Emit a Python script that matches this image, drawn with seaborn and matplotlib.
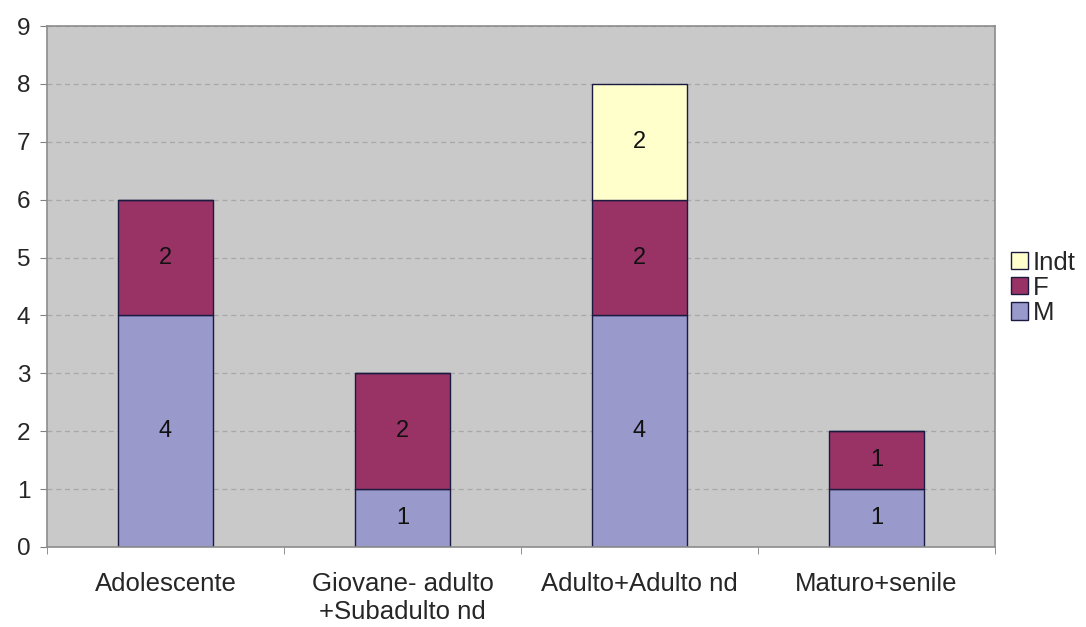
import numpy as np
import pandas as pd
import matplotlib
matplotlib.use("Agg")
import matplotlib.pyplot as plt
import seaborn as sns

# dati
categorie = ["Adolescente", "Giovane- adulto\n+Subadulto nd", "Adulto+Adulto nd", "Maturo+senile"]
m_vals = [4, 1, 4, 1]
f_vals = [2, 2, 2, 1]
indt_vals = [0, 0, 2, 0]

sns.set_style("white")
plt.rcParams['font.family'] = ['Liberation Sans', 'DejaVu Sans']

df = pd.DataFrame({"cat": categorie, "M": m_vals, "F": f_vals, "Indt": indt_vals})

fig = plt.figure(figsize=(10.86, 6.27), dpi=100)
ax = fig.add_axes([0.0433, 0.1276, 0.8729, 0.8309])
ax.set_facecolor("#C9C9C9")

colori = {"M": "#9999CC", "F": "#993366", "Indt": "#FFFFCC"}
bottom = np.zeros(len(categorie))
for serie in ["M", "F", "Indt"]:
    sns.barplot(data=df, x="cat", y=serie, color=colori[serie], bottom=bottom,
                width=0.40, edgecolor="#1a1a40", linewidth=1.0, ax=ax,
                saturation=1, label=serie)
    for i, v in enumerate(df[serie]):
        if v > 0:
            ax.text(i, bottom[i] + v / 2, str(v), ha="center", va="center",
                    fontsize=17, color="#111111")
    bottom = bottom + df[serie].values

ax.set_xlim(-0.5, 3.5)
ax.set_ylim(0, 9)
ax.set_yticks(range(10))
ax.grid(axis="y", linestyle=(0, (4, 3)), color="#a8a8a8", linewidth=0.9)
ax.set_axisbelow(True)
ax.set_xlabel("")
ax.set_ylabel("")

ax.tick_params(axis="x", which="major", length=0, labelsize=18.5, pad=18)
ax.set_xticks([-0.5, 0.5, 1.5, 2.5, 3.5], minor=True)
ax.tick_params(axis="x", which="minor", length=5, color="#808080", direction="out")
ax.tick_params(axis="y", length=5, color="#808080", direction="out", labelsize=17.5, pad=7)
ax.xaxis.set_ticks_position("bottom")
ax.yaxis.set_ticks_position("left")

for s in ["top", "right", "left", "bottom"]:
    ax.spines[s].set_color("#8c8c8c")
    ax.spines[s].set_linewidth(1.2)

handles, labels = ax.get_legend_handles_labels()
if ax.legend_:
    ax.legend_.remove()
fig.legend(handles[::-1], labels[::-1], loc="center left", bbox_to_anchor=(0.931, 0.541),
           frameon=False, fontsize=18.5, handlelength=0.65, handleheight=0.65,
           handletextpad=0.2, labelspacing=0.05, borderaxespad=0, borderpad=0)

fig.savefig("out.png", dpi=100)
